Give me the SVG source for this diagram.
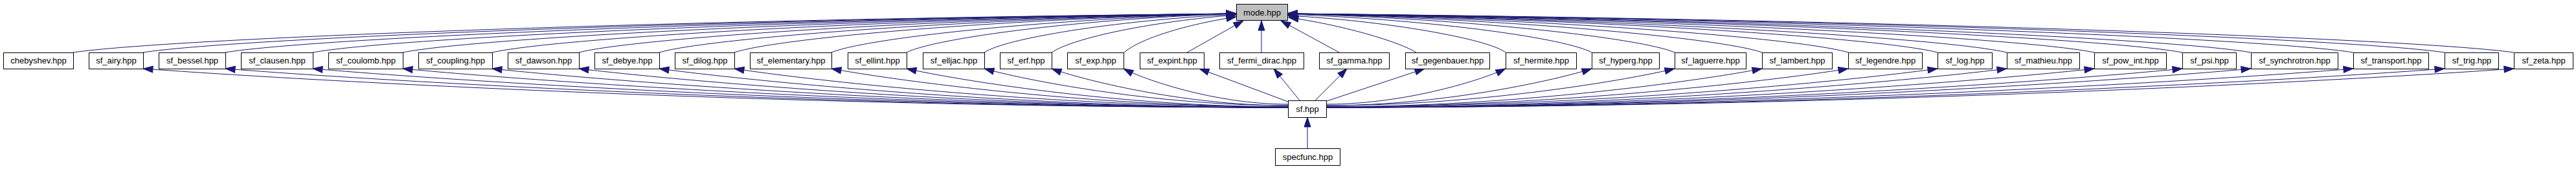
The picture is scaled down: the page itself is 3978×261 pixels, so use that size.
<svg xmlns="http://www.w3.org/2000/svg" width="3978" height="261" viewBox="0 0 3978 261">
<style>
.n rect{fill:#fff;stroke:#000;stroke-width:1}
.n.hl rect{fill:#bfbfbf}
.n text{font-family:"Liberation Sans",Arial,sans-serif;font-size:13px;text-anchor:middle;fill:#000}
#edges path{fill:none;stroke:#191970;stroke-width:1;marker-end:url(#ah)}
</style>
<defs>
<marker id="ah" markerUnits="userSpaceOnUse" markerWidth="16" markerHeight="11" refX="15" refY="5" orient="auto" overflow="visible">
<path d="M0,0 L15,5 L0,10 Z" fill="#191970" stroke="#191970" stroke-width="1"/>
</marker>
</defs>
<rect width="3978" height="261" fill="#fff"/>
<g id="edges">
<path d="M113,81 C257,60 1011,30 1909,21"/>
<path d="M221,81 C356,60 1065,30 1909,21"/>
<path d="M348,81 C473,60 1129,30 1909,21"/>
<path d="M483,81 C597,60 1196,30 1909,21"/>
<path d="M622,81 C725,60 1266,30 1909,21"/>
<path d="M760,81 C852,60 1335,30 1909,21"/>
<path d="M894,81 C975,60 1402,30 1909,21"/>
<path d="M1018,81 C1089,60 1464,30 1909,21"/>
<path d="M1134,81 C1196,60 1522,30 1909,21"/>
<path d="M1284,81 C1334,60 1597,30 1909,21"/>
<path d="M1400,81 C1441,60 1655,30 1909,21"/>
<path d="M1520,81 C1551,60 1715,32 1909,22"/>
<path d="M1624,81 C1658,58 1781,33 1909,23"/>
<path d="M1736,81 C1760,60 1830,38 1909,26"/>
<path d="M1833,81 L1920,32"/>
<path d="M1948,81 L1948,32"/>
<path d="M2068,81 L1978,32"/>
<path d="M2187,81 C2160,64 2070,38 1990,27"/>
<path d="M2325,81 C2298,60 2140,32 1988,24"/>
<path d="M2458,81 C2420,60 2223,31 1988,22"/>
<path d="M2586,81 C2538,60 2287,30 1988,21"/>
<path d="M2721,81 C2662,60 2355,30 1988,21"/>
<path d="M2854,81 C2785,60 2421,30 1988,21"/>
<path d="M2992,81 C2912,60 2490,30 1988,21"/>
<path d="M3099,81 C3010,60 2544,30 1988,21"/>
<path d="M3234,81 C3134,60 2611,30 1988,21"/>
<path d="M3370,81 C3259,60 2679,30 1988,21"/>
<path d="M3476,81 C3357,60 2732,30 1988,21"/>
<path d="M3634,81 C3502,60 2811,30 1988,21"/>
<path d="M3775,81 C3632,60 2882,30 1988,21"/>
<path d="M3882,81 C3730,60 2935,30 1988,21"/>
<path d="M1989,166 C1193,166 433,122 221,106"/>
<path d="M1989,166 C1251,166 545,122 348,106"/>
<path d="M1989,166 C1311,166 664,122 483,106"/>
<path d="M1989,166 C1374,166 786,122 622,106"/>
<path d="M1989,166 C1436,166 907,122 760,106"/>
<path d="M1989,166 C1496,166 1025,122 894,106"/>
<path d="M1989,166 C1552,166 1135,122 1018,106"/>
<path d="M1989,165 C1604,165 1237,122 1134,106"/>
<path d="M1989,165 C1672,165 1369,122 1284,106"/>
<path d="M1989,165 C1724,165 1471,122 1400,106"/>
<path d="M1989,163 C1778,163 1576,122 1520,106"/>
<path d="M1989,163 C1825,163 1668,122 1624,106"/>
<path d="M1989,161 C1875,161 1765,122 1735,106"/>
<path d="M1989,157 L1852,106"/>
<path d="M2007,155 L1967,106"/>
<path d="M2031,155 L2080,106"/>
<path d="M2046,157 L2200,106"/>
<path d="M2048,161 C2173,161 2292,122 2325,106"/>
<path d="M2048,163 C2233,163 2409,122 2458,106"/>
<path d="M2048,163 C2290,163 2521,122 2586,106"/>
<path d="M2048,165 C2351,165 2640,122 2721,106"/>
<path d="M2048,165 C2411,165 2757,122 2854,106"/>
<path d="M2048,165 C2473,165 2879,122 2992,106"/>
<path d="M2048,166 C2521,166 2973,122 3099,106"/>
<path d="M2048,166 C2582,166 3092,122 3234,106"/>
<path d="M2048,166 C2643,166 3211,122 3370,106"/>
<path d="M2048,166 C2691,166 3305,122 3476,106"/>
<path d="M2048,166 C2762,166 3444,122 3634,106"/>
<path d="M2048,166 C2825,166 3568,122 3775,106"/>
<path d="M2048,166 C2873,166 3662,122 3882,106"/>
<path d="M2019,229 L2019,181"/>
</g>
<g id="mode_hpp" class="n hl"><rect x="1909.5" y="6.5" width="79" height="25"/><text x="1949" y="23.5">mode.hpp</text></g>
<g id="sf_hpp" class="n"><rect x="1989.5" y="155.5" width="59" height="26"/><text x="2019" y="173">sf.hpp</text></g>
<g id="specfunc_hpp" class="n"><rect x="1969.5" y="229.5" width="100" height="26"/><text x="2019.5" y="247">specfunc.hpp</text></g>
<g id="chebyshev_hpp" class="n"><rect x="5.5" y="81.5" width="108" height="25"/><text x="59.5" y="98">chebyshev.hpp</text></g>
<g id="sf_airy_hpp" class="n"><rect x="137.5" y="81.5" width="84" height="25"/><text x="179.5" y="98">sf_airy.hpp</text></g>
<g id="sf_bessel_hpp" class="n"><rect x="245.5" y="81.5" width="103" height="25"/><text x="297" y="98">sf_bessel.hpp</text></g>
<g id="sf_clausen_hpp" class="n"><rect x="372.5" y="81.5" width="111" height="25"/><text x="428" y="98">sf_clausen.hpp</text></g>
<g id="sf_coulomb_hpp" class="n"><rect x="507.5" y="81.5" width="115" height="25"/><text x="565" y="98">sf_coulomb.hpp</text></g>
<g id="sf_coupling_hpp" class="n"><rect x="646.5" y="81.5" width="114" height="25"/><text x="703.5" y="98">sf_coupling.hpp</text></g>
<g id="sf_dawson_hpp" class="n"><rect x="784.5" y="81.5" width="110" height="25"/><text x="839.5" y="98">sf_dawson.hpp</text></g>
<g id="sf_debye_hpp" class="n"><rect x="918.5" y="81.5" width="100" height="25"/><text x="968.5" y="98">sf_debye.hpp</text></g>
<g id="sf_dilog_hpp" class="n"><rect x="1042.5" y="81.5" width="92" height="25"/><text x="1088.5" y="98">sf_dilog.hpp</text></g>
<g id="sf_elementary_hpp" class="n"><rect x="1158.5" y="81.5" width="126" height="25"/><text x="1221.5" y="98">sf_elementary.hpp</text></g>
<g id="sf_ellint_hpp" class="n"><rect x="1309.5" y="81.5" width="91" height="25"/><text x="1355" y="98">sf_ellint.hpp</text></g>
<g id="sf_elljac_hpp" class="n"><rect x="1425.5" y="81.5" width="95" height="25"/><text x="1473" y="98">sf_elljac.hpp</text></g>
<g id="sf_erf_hpp" class="n"><rect x="1544.5" y="81.5" width="80" height="25"/><text x="1584.5" y="98">sf_erf.hpp</text></g>
<g id="sf_exp_hpp" class="n"><rect x="1648.5" y="81.5" width="87" height="25"/><text x="1692" y="98">sf_exp.hpp</text></g>
<g id="sf_expint_hpp" class="n"><rect x="1760.5" y="81.5" width="99" height="25"/><text x="1810" y="98">sf_expint.hpp</text></g>
<g id="sf_fermi_dirac_hpp" class="n"><rect x="1883.5" y="81.5" width="130" height="25"/><text x="1948.5" y="98">sf_fermi_dirac.hpp</text></g>
<g id="sf_gamma_hpp" class="n"><rect x="2037.5" y="81.5" width="108" height="25"/><text x="2091.5" y="98">sf_gamma.hpp</text></g>
<g id="sf_gegenbauer_hpp" class="n"><rect x="2170.5" y="81.5" width="130" height="25"/><text x="2235.5" y="98">sf_gegenbauer.hpp</text></g>
<g id="sf_hermite_hpp" class="n"><rect x="2325.5" y="81.5" width="109" height="25"/><text x="2380" y="98">sf_hermite.hpp</text></g>
<g id="sf_hyperg_hpp" class="n"><rect x="2458.5" y="81.5" width="104" height="25"/><text x="2510.5" y="98">sf_hyperg.hpp</text></g>
<g id="sf_laguerre_hpp" class="n"><rect x="2586.5" y="81.5" width="110" height="25"/><text x="2641.5" y="98">sf_laguerre.hpp</text></g>
<g id="sf_lambert_hpp" class="n"><rect x="2721.5" y="81.5" width="108" height="25"/><text x="2775.5" y="98">sf_lambert.hpp</text></g>
<g id="sf_legendre_hpp" class="n"><rect x="2854.5" y="81.5" width="114" height="25"/><text x="2911.5" y="98">sf_legendre.hpp</text></g>
<g id="sf_log_hpp" class="n"><rect x="2992.5" y="81.5" width="84" height="25"/><text x="3034.5" y="98">sf_log.hpp</text></g>
<g id="sf_mathieu_hpp" class="n"><rect x="3099.5" y="81.5" width="112" height="25"/><text x="3155.5" y="98">sf_mathieu.hpp</text></g>
<g id="sf_pow_int_hpp" class="n"><rect x="3234.5" y="81.5" width="111" height="25"/><text x="3290" y="98">sf_pow_int.hpp</text></g>
<g id="sf_psi_hpp" class="n"><rect x="3370.5" y="81.5" width="83" height="25"/><text x="3412" y="98">sf_psi.hpp</text></g>
<g id="sf_synchrotron_hpp" class="n"><rect x="3476.5" y="81.5" width="134" height="25"/><text x="3543.5" y="98">sf_synchrotron.hpp</text></g>
<g id="sf_transport_hpp" class="n"><rect x="3634.5" y="81.5" width="116" height="25"/><text x="3692.5" y="98">sf_transport.hpp</text></g>
<g id="sf_trig_hpp" class="n"><rect x="3775.5" y="81.5" width="83" height="25"/><text x="3817" y="98">sf_trig.hpp</text></g>
<g id="sf_zeta_hpp" class="n"><rect x="3882.5" y="81.5" width="91" height="25"/><text x="3928" y="98">sf_zeta.hpp</text></g>
</svg>
